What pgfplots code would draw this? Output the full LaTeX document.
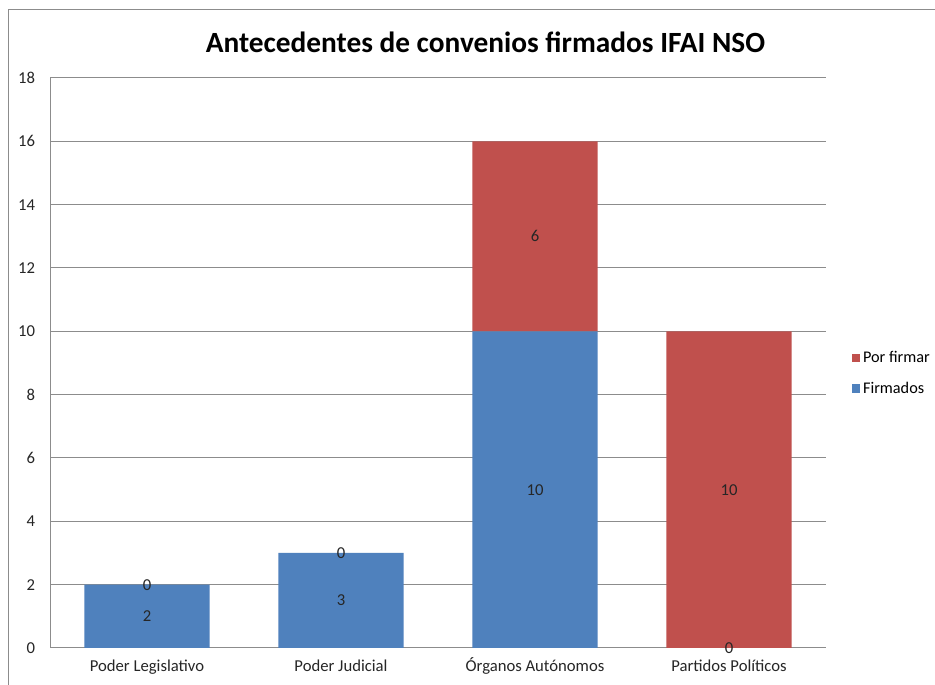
\documentclass[border=0pt]{standalone}
\usepackage{pgfplots}
\pgfplotsset{compat=1.18}
\usepackage{fontspec}
\setmainfont{Carlito}
\definecolor{barblue}{HTML}{4F81BD}
\definecolor{barred}{HTML}{C0504D}
\definecolor{gridgray}{HTML}{8C8C8C}
\pgfplotsset{
  geom/.style={at={(37.5pt,27.75pt)}, anchor=south west,
    scale only axis, width=582pt, height=427.5pt,
    xmin=-0.5, xmax=3.5, ymin=0, ymax=18},
}
\begin{document}
\begin{tikzpicture}[x=0.75pt,y=0.75pt]
\path[use as bounding box, fill=white] (0,0) rectangle (935,685);
\draw[gridgray, line width=0.75pt] (8,0) -- (8,675) -- (935,675);
\node[font=\bfseries\fontsize{22}{26}\selectfont, anchor=center] at (485.5,643) {Antecedentes de convenios firmados IFAI NSO};
\begin{axis}[
  geom,
  ybar stacked, bar width=0.645,
  ytick distance=2,
  xtick={0,1,2,3},
  xticklabels={Poder Legislativo, Poder Judicial, Órganos Autónomos, Partidos Políticos},
  axis lines*=left,
  axis line style={gridgray, line width=0.75pt},
  ymajorgrids, grid style={gridgray, line width=0.75pt},
  major tick length=0pt,
  tick label style={font=\fontsize{12.5}{14}\selectfont, text=black!85},
  yticklabel style={inner sep=0pt, xshift=-11pt},
  xticklabel style={inner sep=0pt, anchor=base, yshift=-18pt},
  /pgf/number format/assume math mode=true,
  legend style={at={(rel axis cs:1.033,0.482)}, anchor=west, draw=none, fill=none,
    inner sep=0pt, row sep=9pt, font=\fontsize{12.2}{14}\selectfont},
  legend cell align=left,
  reverse legend,
  legend image code/.code={\fill[#1] (0pt,-3.2pt) rectangle (6.4pt,3.2pt);},
]
\addplot[fill=barblue, draw=none] coordinates {(0,2) (1,3) (2,10) (3,0)};
\addlegendentry{Firmados}
\addplot[fill=barred, draw=none] coordinates {(0,0) (1,0) (2,6) (3,10)};
\addlegendentry{Por firmar}
\end{axis}
\begin{axis}[geom, hide axis]
\addplot[draw=none, mark=none, nodes near coords, point meta=explicit symbolic,
  every node near coord/.append style={anchor=center, inner sep=0pt,
    font=\fontsize{12.5}{14}\selectfont, text=black!85}]
  coordinates {(0,1) [2] (1,1.5) [3] (2,5) [10] (3,0) [0]
               (0,2) [0] (1,3) [0] (2,13) [6] (3,5) [10]};
\end{axis}
\end{tikzpicture}
\end{document}
